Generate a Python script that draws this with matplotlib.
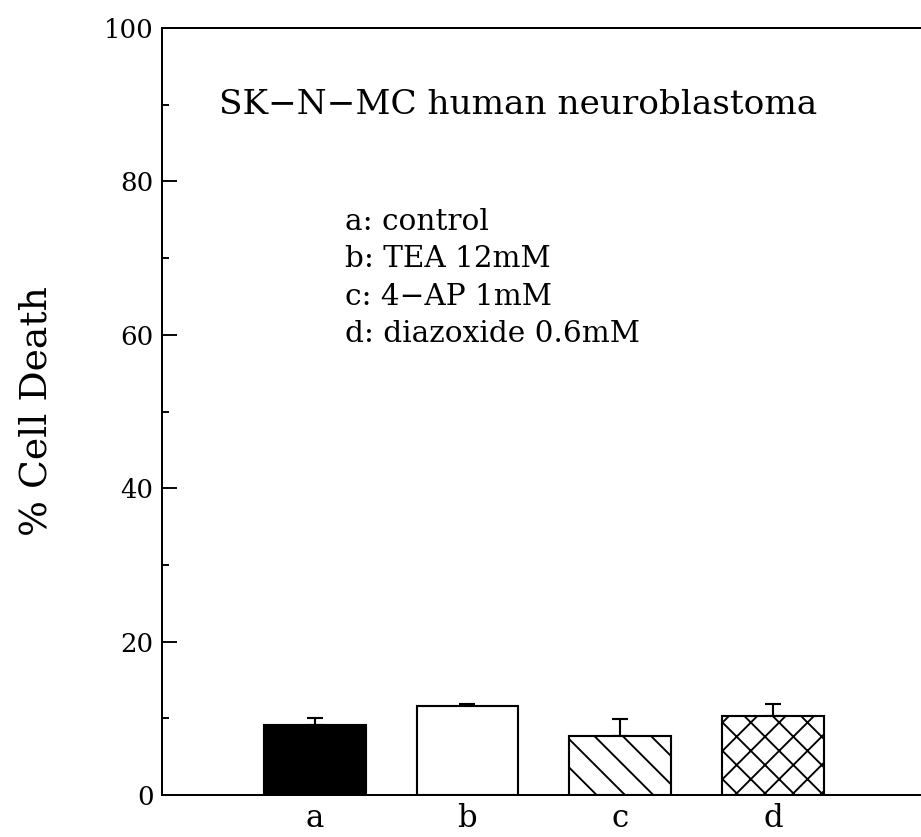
import matplotlib
matplotlib.use("Agg")
import matplotlib.pyplot as plt
from matplotlib.ticker import MultipleLocator

# % cell death for each treatment, with upward SEM bars
groups = ["a", "b", "c", "d"]
death = [9.1, 11.6, 7.7, 10.3]
sem = [0.9, 0.2, 2.2, 1.5]
fills = ["black", "white", "white", "white"]
hatches = [None, None, "\\\\", "xx"]

legend_lines = ["a: control", "b: TEA 12mM", "c: 4\u2212AP 1mM", "d: diazoxide 0.6mM"]
title_text = "SK\u2212N\u2212MC human neuroblastoma"

DPI = 170
plt.rcParams["font.family"] = "DejaVu Serif"
plt.rcParams["hatch.linewidth"] = 0.8

fig = plt.figure(figsize=(921 / DPI, 837 / DPI), dpi=DPI)
ax = fig.add_axes([162 / 921, 1 - 795 / 837, 1 - 162 / 921, (795 - 28) / 837])

x = list(range(len(groups)))
bars = ax.bar(x, death, width=0.667, color=fills, edgecolor="black",
              linewidth=0.9, zorder=2)
for b, h in zip(bars, hatches):
    if h:
        b.set_hatch(h)
ax.errorbar(x, death, yerr=[[0] * len(sem), sem], fmt="none", ecolor="black",
            elinewidth=0.9, capsize=3.2, capthick=0.9, zorder=1)

ax.set_xlim(-1, 3.97)
ax.set_ylim(0, 100)
ax.yaxis.set_major_locator(MultipleLocator(20))
ax.yaxis.set_minor_locator(MultipleLocator(10))
ax.tick_params(axis="y", which="major", direction="in", length=6.4, width=0.8,
               labelsize=11, pad=3.5)
ax.tick_params(axis="y", which="minor", direction="in", length=3, width=0.8)
ax.set_xticks(x)
ax.set_xticklabels(groups)
ax.tick_params(axis="x", length=0, labelsize=13, pad=3.5)
ax.spines["right"].set_visible(False)
for s in ["left", "top", "bottom"]:
    ax.spines[s].set_linewidth(0.85)

ax.set_ylabel("% Cell Death", fontsize=16, labelpad=21)

ax.text(0.075, 0.888, title_text, transform=ax.transAxes, fontsize=14.5,
        ha="left", va="baseline")
for i, line in enumerate(legend_lines):
    ax.text(0.241, 0.737 - i * 0.0488, line, transform=ax.transAxes,
            fontsize=12.5, ha="left", va="baseline")

fig.savefig("out.png", dpi=DPI)
